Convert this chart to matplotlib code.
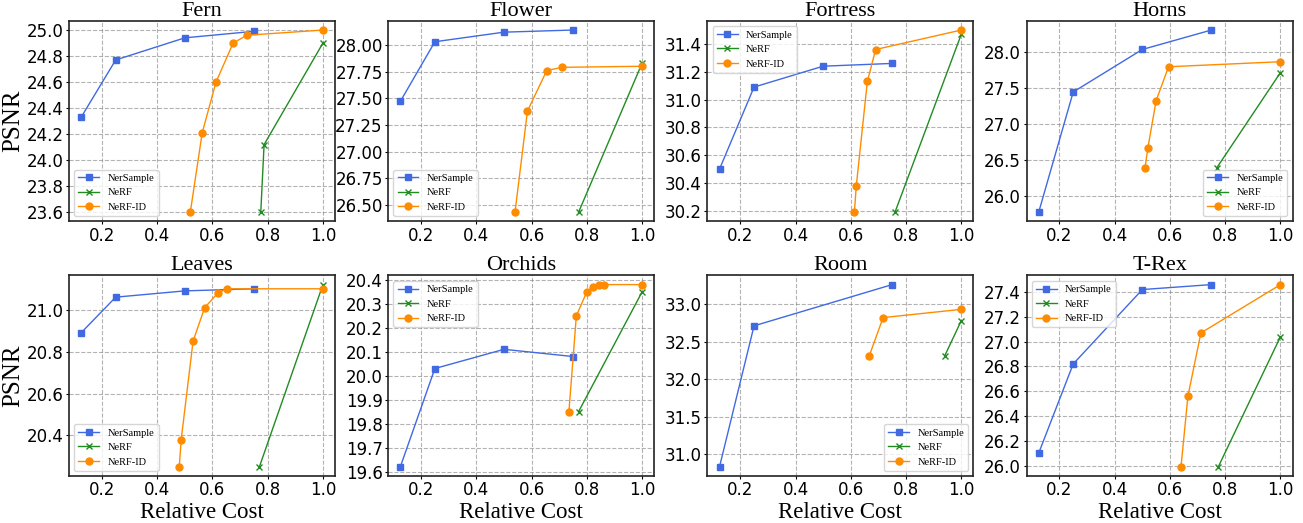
import matplotlib.pyplot as plt
from matplotlib.ticker import MultipleLocator

scenes = ["Fern", "Flower", "Fortress", "Horns", "Leaves", "Orchids", "Room", "T-Rex"]

# NerSample
ns_x = [[0.125, 0.25, 0.5, 0.75]] * 6 + [[0.125, 0.25, 0.75], [0.125, 0.25, 0.5, 0.75]]
ns_y = [
    [24.33, 24.77, 24.94, 24.99],
    [27.47, 28.03, 28.12, 28.14],
    [30.50, 31.09, 31.24, 31.26],
    [25.78, 27.45, 28.04, 28.31],
    [20.89, 21.06, 21.09, 21.10],
    [19.62, 20.03, 20.11, 20.08],
    [30.83, 32.71, 33.26],
    [26.10, 26.82, 27.42, 27.46],
]

# NeRF
nerf_x = [
    [0.775, 0.787, 1.0],
    [0.77, 1.0],
    [0.76, 1.0],
    [0.77, 1.0],
    [0.77, 1.0],
    [0.77, 1.0],
    [0.94, 1.0],
    [0.775, 1.0],
]
nerf_y = [
    [23.60, 24.12, 24.90],
    [26.43, 27.83],
    [30.19, 31.47],
    [26.40, 27.72],
    [20.25, 21.12],
    [19.85, 20.35],
    [32.31, 32.78],
    [25.99, 27.04],
]

# NeRF-ID
id_x = [
    [0.52, 0.563, 0.613, 0.675, 0.725, 1.0],
    [0.54, 0.585, 0.655, 0.71, 1.0],
    [0.613, 0.62, 0.66, 0.69, 1.0],
    [0.51, 0.52, 0.55, 0.595, 1.0],
    [0.48, 0.487, 0.53, 0.572, 0.62, 0.652, 1.0],
    [0.735, 0.762, 0.80, 0.822, 0.845, 0.862, 1.0],
    [0.667, 0.717, 1.0],
    [0.64, 0.665, 0.712, 1.0],
]
id_y = [
    [23.60, 24.21, 24.60, 24.90, 24.96, 25.00],
    [26.43, 27.38, 27.76, 27.79, 27.80],
    [30.19, 30.38, 31.13, 31.36, 31.50],
    [26.40, 26.67, 27.33, 27.80, 27.87],
    [20.25, 20.38, 20.85, 21.01, 21.08, 21.10, 21.10],
    [19.85, 20.25, 20.35, 20.37, 20.38, 20.38, 20.38],
    [32.31, 32.82, 32.93],
    [25.99, 26.56, 27.07, 27.46],
]

ystep = [0.2, 0.25, 0.2, 0.5, 0.2, 0.1, 0.5, 0.2]
legloc = ["lower left", "lower left", "upper left", "lower right",
          "lower left", "upper left", "lower right", "upper left"]

serif = "Liberation Serif"

fig, axes = plt.subplots(2, 4, figsize=(13.03, 5.23), dpi=100)
fig.subplots_adjust(left=0.053, right=0.992, top=0.960, bottom=0.090, wspace=0.2, hspace=0.27)

for i, ax in enumerate(axes.flat):
    ax.plot(ns_x[i], ns_y[i], color="royalblue", marker="s", markersize=5, linewidth=1, label="NerSample")
    ax.plot(nerf_x[i], nerf_y[i], color="forestgreen", marker="x", markersize=5, linewidth=1, label="NeRF")
    ax.plot(id_x[i], id_y[i], color="darkorange", marker="o", markersize=5, linewidth=1, label="NeRF-ID")
    ax.set_title(scenes[i], fontsize=16, family=serif, pad=3)
    ax.yaxis.set_major_locator(MultipleLocator(ystep[i]))
    ax.xaxis.set_major_locator(MultipleLocator(0.2))
    ax.grid(True, linestyle="--", color="gray", alpha=0.6, linewidth=0.8)
    ax.tick_params(labelsize=12, length=2, pad=2)
    for s in ax.spines.values():
        s.set_color("#222222")
        s.set_linewidth(1.2)
    ax.legend(loc=legloc[i], prop={"family": serif, "size": 7.5})
    if i % 4 == 0:
        ax.set_ylabel("PSNR", fontsize=18, family=serif, labelpad=2)
    if i >= 4:
        ax.set_xlabel("Relative Cost", fontsize=16.5, family=serif, labelpad=2)

plt.savefig("out.png")
